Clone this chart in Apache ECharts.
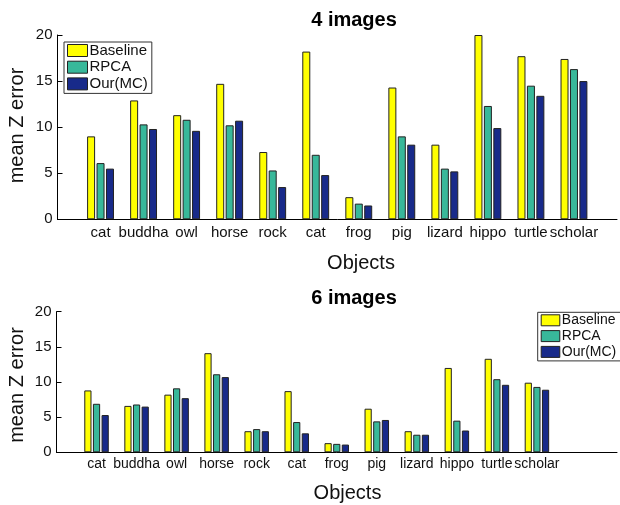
<!DOCTYPE html>
<html>
<head>
<meta charset="utf-8">
<script src="https://cdn.jsdelivr.net/npm/echarts@6/dist/echarts.min.js"></script>
<style>
  html, body { margin: 0; padding: 0; background: #fff; }
  #chart { width: 620px; height: 505px; }
</style>
</head>
<body>
<div id="chart"></div>
<script>
// Object names along the x axis
const categories = ['cat', 'buddha', 'owl', 'horse', 'rock', 'cat', 'frog', 'pig', 'lizard', 'hippo', 'turtle', 'scholar'];
const seriesNames = ['Baseline', 'RPCA', 'Our(MC)'];
const yTicks = [0, 5, 10, 15, 20];

// Mean Z error, 4 images
const fourBaseline = [9.0, 12.9, 11.3, 14.7, 7.3, 18.2, 2.4, 14.3, 8.1, 20.0, 17.7, 17.4];
const fourRPCA     = [6.1, 10.3, 10.8, 10.2, 5.3, 7.0, 1.7, 9.0, 5.5, 12.3, 14.5, 16.3];
const fourOurs     = [5.5, 9.8, 9.6, 10.7, 3.5, 4.8, 1.5, 8.1, 5.2, 9.9, 13.4, 15.0];

// Mean Z error, 6 images
const sixBaseline = [8.8, 6.6, 8.2, 14.1, 3.0, 8.7, 1.3, 6.2, 3.0, 12.0, 13.3, 9.9];
const sixRPCA     = [6.9, 6.8, 9.1, 11.1, 3.3, 4.3, 1.2, 4.4, 2.5, 4.5, 10.4, 9.3];
const sixOurs     = [5.3, 6.5, 7.7, 10.7, 3.0, 2.7, 1.1, 4.6, 2.5, 3.1, 9.6, 8.9];

const colors = ['#ffff00', '#38b89a', '#182a8a'];
const FONT = 'Liberation Sans, Arial, Helvetica, sans-serif';

// Axis spans x = 0 .. N with objects at 1..12, so pad both ends with empty slots
function padCats(extraRight) {
  const out = [''].concat(categories);
  for (let i = 0; i < extraRight; i++) out.push('');
  return out;
}
function padVals(vals, extraRight) {
  const out = ['-'].concat(vals);
  for (let i = 0; i < extraRight; i++) out.push('-');
  return out;
}

function xAxisFor(gridIndex, extraRight, fontSize, margin) {
  return {
    type: 'category', gridIndex: gridIndex, data: padCats(extraRight), boundaryGap: false,
    axisLine: { lineStyle: { color: '#000', width: 1 } },
    axisTick: { show: false },
    axisLabel: { interval: 0, color: '#111', fontFamily: FONT, fontSize: fontSize, margin: margin },
    splitLine: { show: false }
  };
}
function yAxisFor(gridIndex) {
  return {
    type: 'value', gridIndex: gridIndex, min: yTicks[0], max: yTicks[yTicks.length - 1], interval: 5,
    axisLine: { show: true, lineStyle: { color: '#000', width: 1 } },
    axisTick: { show: true, inside: true, length: 5, lineStyle: { color: '#000' } },
    axisLabel: { color: '#111', fontFamily: FONT, fontSize: 15, margin: 5 },
    splitLine: { show: false }
  };
}
function barSeries(name, vals, idx, extraRight, width, gap) {
  return {
    name: name, type: 'bar', xAxisIndex: idx, yAxisIndex: idx,
    data: padVals(vals, extraRight),
    barWidth: width, barGap: gap,
    itemStyle: { color: colors[seriesNames.indexOf(name)], borderColor: '#222', borderWidth: 1 },
    emphasis: { disabled: true },
    animation: false
  };
}

const chart = echarts.init(document.getElementById('chart'), null, { renderer: 'canvas' });

const fourSets = [fourBaseline, fourRPCA, fourOurs];
const sixSets = [sixBaseline, sixRPCA, sixOurs];

chart.setOption({
  animation: false,
  textStyle: { fontFamily: FONT },
  grid: [
    { left: 57.5, top: 35, width: 566, height: 184.3 },
    { left: 56.5, top: 311.7, width: 567, height: 140.6 }
  ],
  xAxis: [xAxisFor(0, 1, 15, 6), xAxisFor(1, 2, 14, 5)],
  yAxis: [yAxisFor(0), yAxisFor(1)],
  legend: [
    {
      data: seriesNames, orient: 'vertical', left: 64, top: 42, icon: 'rect',
      itemWidth: 20, itemHeight: 12, itemGap: 1.7,
      padding: [1, 4, 2, 3],
      borderColor: '#333', borderWidth: 1, backgroundColor: '#fff',
      itemStyle: { borderColor: '#222', borderWidth: 1 },
      textStyle: { fontFamily: FONT, fontSize: 15, color: '#111', lineHeight: 15, padding: [0, 0, 0, -3] },
      selectedMode: false
    },
    {
      data: seriesNames, orient: 'vertical', left: 537.7, top: 312.3, icon: 'rect',
      itemWidth: 18.6, itemHeight: 11, itemGap: 1.8,
      padding: [1, 6, 2, 3],
      borderColor: '#333', borderWidth: 1, backgroundColor: '#fff',
      itemStyle: { borderColor: '#222', borderWidth: 1 },
      textStyle: { fontFamily: FONT, fontSize: 14, color: '#111', lineHeight: 14, padding: [0, 0, 0, -3] },
      selectedMode: false
    }
  ],
  series: seriesNames.map((n, i) => barSeries(n, fourSets[i], 0, 1, 8, '18%'))
    .concat(seriesNames.map((n, i) => barSeries(n, sixSets[i], 1, 2, 7.2, '20%'))),
  graphic: [
    { type: 'text', x: 354, y: 20, style: { text: '4 images', font: 'bold 20px ' + FONT, fill: '#000', align: 'center', verticalAlign: 'middle' } },
    { type: 'text', x: 354, y: 298, style: { text: '6 images', font: 'bold 20px ' + FONT, fill: '#000', align: 'center', verticalAlign: 'middle' } },
    { type: 'text', x: 361, y: 263, style: { text: 'Objects', font: '20px ' + FONT, fill: '#111', align: 'center', verticalAlign: 'middle' } },
    { type: 'text', x: 347.5, y: 493, style: { text: 'Objects', font: '20px ' + FONT, fill: '#111', align: 'center', verticalAlign: 'middle' } },
    { type: 'text', x: 17, y: 125.5, rotation: Math.PI / 2, style: { text: 'mean Z error', font: '20px ' + FONT, fill: '#111', align: 'center', verticalAlign: 'middle' } },
    { type: 'text', x: 17, y: 385, rotation: Math.PI / 2, style: { text: 'mean Z error', font: '20px ' + FONT, fill: '#111', align: 'center', verticalAlign: 'middle' } }
  ]
});
</script>
</body>
</html>
